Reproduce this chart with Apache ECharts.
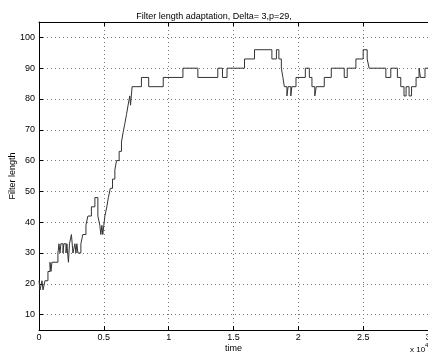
<!DOCTYPE html>
<html>
<head>
<meta charset="utf-8">
<title>Filter length adaptation</title>
<script src="https://cdn.jsdelivr.net/npm/echarts@6/dist/echarts.min.js"></script>
<style>
    html, body { margin: 0; padding: 0; background: #fff; }
    #chart_main { width: 428px; height: 355px; }
</style>
</head>
<body>
<div id="chart_main"></div>
<script>
// time of each change of the filter length (x 10^4 samples)
var stepTimes = [
    0, 0.008, 0.023, 0.031, 0.046, 0.069, 0.085, 0.092, 0.1, 0.146,
    0.154, 0.162, 0.169, 0.185, 0.192, 0.208, 0.215, 0.227, 0.235, 0.25,
    0.262, 0.277, 0.285, 0.292, 0.3, 0.323, 0.338, 0.362, 0.377, 0.404,
    0.431, 0.454, 0.469, 0.477, 0.485, 0.492, 0.5, 0.508, 0.523, 0.535,
    0.55, 0.567, 0.585, 0.598, 0.618, 0.636, 0.648, 0.662, 0.675, 0.687,
    0.7, 0.706, 0.712, 0.718, 0.79, 0.846, 0.958, 1.11, 1.225, 1.379,
    1.415, 1.45, 1.585, 1.662, 1.796, 1.831, 1.85, 1.869, 1.881, 1.892,
    1.912, 1.921, 1.942, 1.95, 1.982, 2.054, 2.085, 2.105, 2.127, 2.138,
    2.2, 2.254, 2.354, 2.377, 2.444, 2.5, 2.531, 2.546, 2.675, 2.713,
    2.764, 2.79, 2.815, 2.831, 2.854, 2.873, 2.908, 2.931, 2.942, 2.977,
    3
];
// filter length held from each change time
var stepLengths = [
    21, 18, 21, 18, 21, 24, 27, 24, 27, 30,
    33, 30, 33, 30, 33, 30, 33, 27, 33, 36,
    30, 33, 30, 33, 30, 33, 36, 39, 42, 45,
    48, 42, 39, 36, 39, 36, 39, 42, 45, 48,
    51, 54, 57, 60, 63, 66, 69, 72, 75, 78,
    81, 78, 81, 84, 87, 84, 87, 90, 87, 90,
    87, 90, 93, 96, 93, 96, 93, 90, 87, 84,
    81, 84, 81, 84, 87, 90, 87, 84, 81, 84,
    87, 90, 87, 90, 93, 96, 93, 90, 87, 90,
    87, 84, 81, 84, 81, 84, 87, 90, 87, 90,
    90
];
var xTicks = [0, 0.5, 1, 1.5, 2, 2.5, 3];
var yTicks = [10, 20, 30, 40, 50, 60, 70, 80, 90, 100];

var FONT = '"Liberation Sans", Arial, Helvetica, sans-serif';

onReady(function () {
    var chart = echarts.init(document.getElementById('chart_main'), null, { renderer: 'canvas' });
    chart.setOption(buildOption());
});

function onReady(fn) {
    if (document.readyState !== 'loading') { fn(); }
    else { document.addEventListener('DOMContentLoaded', fn); }
}

// tiny merge helper
function extend(a, b) {
    var out = {};
    for (var k in b) { out[k] = b[k]; }
    for (var j in a) { out[j] = a[j]; }
    return out;
}

function buildOption() {
    var points = [];
    for (var i = 0; i < stepTimes.length; i++) {
        points.push([stepTimes[i], stepLengths[i]]);
    }
    var gridLine = { show: true, lineStyle: { color: '#777', width: 1, type: [1, 3] } };
    var tickIn = { show: true, inside: true, length: 4, lineStyle: { color: '#000' } };
    var frameLine = { show: true, onZero: false, lineStyle: { color: '#000', width: 1 } };

    return {
        animation: false,
        backgroundColor: '#fff',
        title: {
            text: 'Filter length adaptation, Delta= 3,p=29,',
            left: 'center',
            top: 7,
            textStyle: { fontFamily: FONT, fontSize: 9, fontWeight: 'normal', color: '#000' }
        },
        grid: {
            left: 39, right: 0, top: 22, bottom: 25,
            containLabel: false,
            outerBoundsMode: 'none',
            show: false
        },
        xAxis: [{
            type: 'value',
            min: 0, max: 3,
            name: 'time',
            nameLocation: 'middle',
            nameGap: 14,
            nameMoveOverlap: false,
            nameTextStyle: { fontFamily: FONT, fontSize: 9, color: '#000', verticalAlign: 'top' },
            axisLine: frameLine,
            axisTick: extend({ customValues: xTicks }, tickIn),
            axisLabel: { customValues: xTicks, fontFamily: FONT, fontSize: 9, color: '#000', margin: 3 },
            splitLine: gridLine
        }, {
            // top frame
            type: 'value',
            position: 'top',
            min: 0, max: 3,
            axisLine: frameLine,
            axisTick: extend({ customValues: xTicks }, tickIn),
            axisLabel: { show: false },
            splitLine: { show: false }
        }],
        yAxis: {
            type: 'value',
            min: 5, max: 105,
            name: 'Filter length',
            nameLocation: 'middle',
            nameGap: 22,
            nameMoveOverlap: false,
            nameTextStyle: { fontFamily: FONT, fontSize: 9, color: '#000' },
            axisLine: frameLine,
            axisTick: extend({ customValues: yTicks }, tickIn),
            axisLabel: { customValues: yTicks, fontFamily: FONT, fontSize: 9, color: '#000', margin: 4 },
            splitLine: gridLine
        },
        graphic: [
            { type: 'text', left: 410, top: 346, style: { text: 'x 10', fontFamily: FONT, fontSize: 8, fill: '#000' } },
            { type: 'text', left: 425, top: 342, style: { text: '4', fontFamily: FONT, fontSize: 6, fill: '#000' } }
        ],
        series: [{
            type: 'line',
            step: 'end',
            data: points,
            symbol: 'none',
            lineStyle: { color: '#333', width: 1 }
        }]
    };
}
</script>
</body>
</html>
